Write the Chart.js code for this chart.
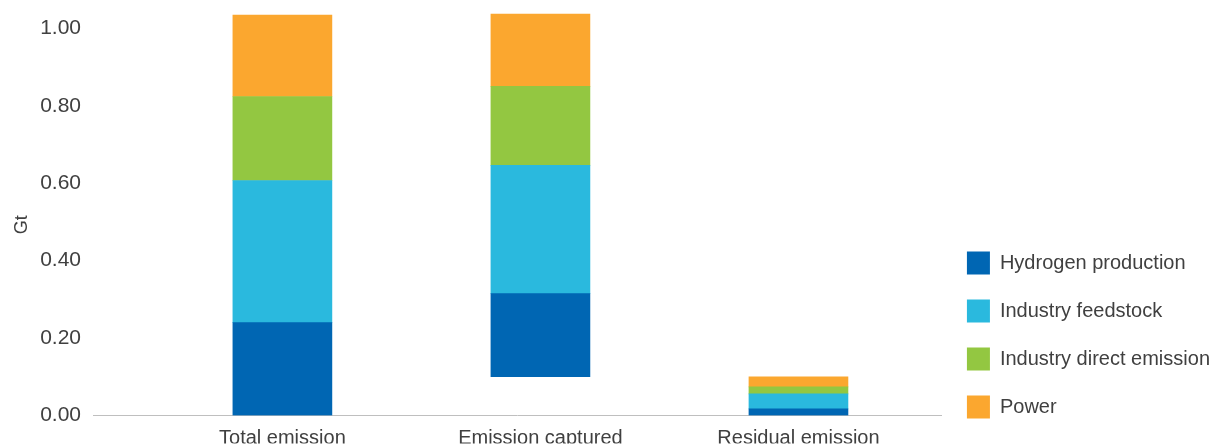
<!DOCTYPE html>
<html>
<head>
<meta charset="utf-8">
<script src="https://cdn.jsdelivr.net/npm/chart.js@4/dist/chart.umd.min.js"></script>
<style>
  html, body { margin: 0; padding: 0; background: #fff; overflow: hidden; }
  #wrap { width: 1220px; height: 446px; }
</style>
</head>
<body>
<div id="wrap"><canvas id="chartCanvas"></canvas></div>
<script>
// categories + values (Gt)
const categories = ['Total emission', 'Emission captured', 'Residual emission'];
const offsetBase = [0, 0.10, 0];          // captured bar floats on this
const hydrogenProduction = [0.240, 0.215, 0.017];
const industryFeedstock = [0.367, 0.331, 0.039];
const industryDirect = [0.217, 0.204, 0.018];
const power = [0.210, 0.187, 0.026];
const yTicks = [0, 0.2, 0.4, 0.6, 0.8, 1.0];

function toPoints(arr) {
  return arr.map((v, i) => ({ x: i, y: v }));
}

Chart.defaults.font.family = "'Liberation Sans', Arial, sans-serif";
Chart.defaults.font.size = 20;
Chart.defaults.color = '#404040';

const ctx = document.getElementById('chartCanvas').getContext('2d');

const chart = new Chart(ctx, {
  type: 'bar',
  data: {
    datasets: [
      { label: 'offset', data: toPoints(offsetBase), backgroundColor: 'rgba(0,0,0,0)' },
      { label: 'Hydrogen production', data: toPoints(hydrogenProduction), backgroundColor: '#0066b3' },
      { label: 'Industry feedstock', data: toPoints(industryFeedstock), backgroundColor: '#2ab9de' },
      { label: 'Industry direct emission', data: toPoints(industryDirect), backgroundColor: '#93c741' },
      { label: 'Power', data: toPoints(power), backgroundColor: '#fba72f' }
    ]
  },
  options: {
    responsive: true,
    maintainAspectRatio: false,
    animation: false,
    datasets: { bar: { barThickness: 99, borderWidth: 0 } },
    layout: { padding: { left: 7, top: 9, right: 0, bottom: 2.5 } },
    plugins: {
      tooltip: { enabled: false },
      legend: {
        position: 'right',
        align: 'end',
        labels: {
          boxWidth: 23,
          boxHeight: 23,
          padding: 25,
          color: '#404040',
          font: { size: 20 },
          filter: item => item.text !== 'offset'
        }
      }
    },
    scales: {
      x: {
        type: 'linear',
        stacked: true,
        offset: false,
        min: -0.734,
        max: 2.556,
        grid: { display: false, drawTicks: false },
        border: { display: true, color: '#bfbfbf', width: 1 },
        afterBuildTicks: axis => { axis.ticks = categories.map((c, i) => ({ value: i })); },
        afterFit: axis => { axis.height = 28; },
        ticks: {
          padding: 11,
          maxRotation: 0,
          autoSkip: false,
          callback: v => categories[v]
        }
      },
      y: {
        stacked: true,
        min: 0,
        max: 1.05,
        grid: { display: false, drawTicks: false },
        border: { display: false },
        afterBuildTicks: axis => { axis.ticks = yTicks.map(v => ({ value: v })); },
        afterFit: axis => { axis.paddingTop = 0; axis.paddingBottom = 0; axis.width = 86; },
        ticks: {
          padding: 12,
          font: { size: 21 },
          callback: v => v.toFixed(2)
        },
        title: {
          display: true,
          text: 'Gt     ',
          font: { size: 18 },
          color: '#404040'
        }
      }
    }
  }
});
</script>
</body>
</html>
